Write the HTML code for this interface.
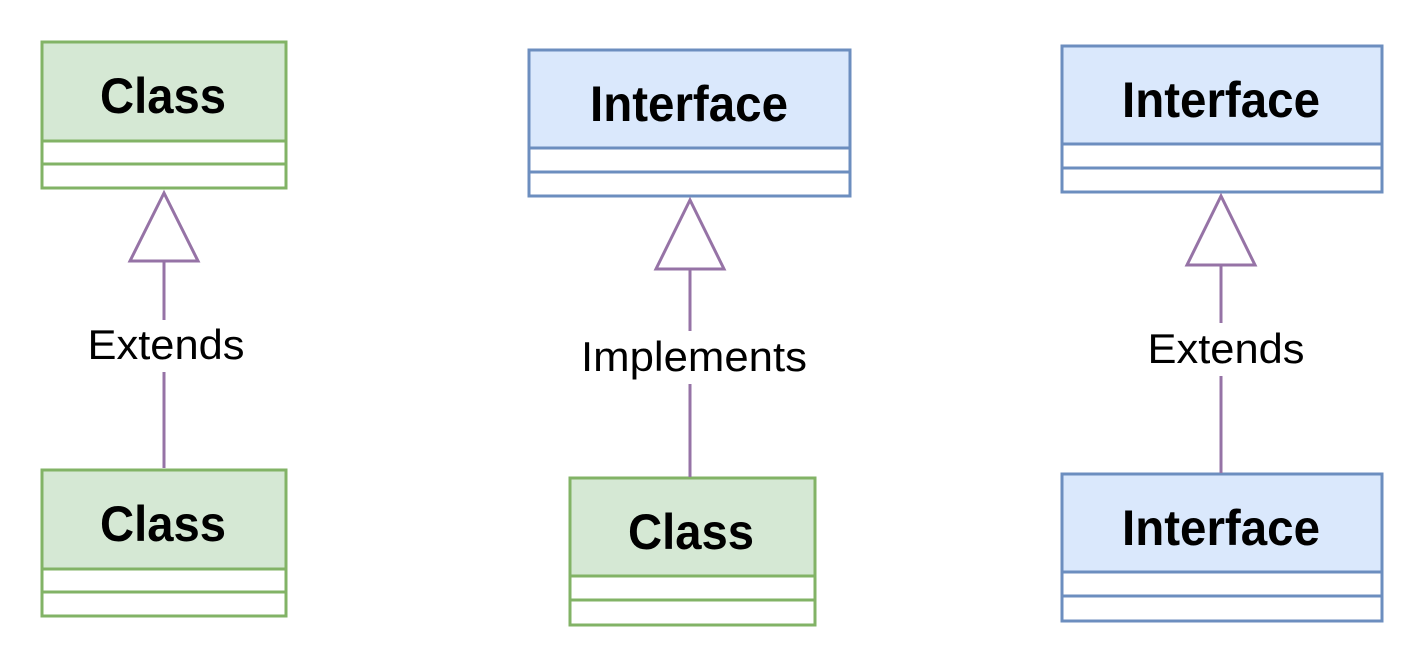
<!DOCTYPE html>
<html><head><meta charset="utf-8"><style>html,body{margin:0;padding:0;background:#fff}svg{display:block}</style></head>
<body>
<svg width="1424" height="668" viewBox="0 0 1424 668" xmlns="http://www.w3.org/2000/svg" font-family="Liberation Sans, Arial, sans-serif">
<g stroke-width="3">
<rect x="42" y="42" width="244" height="146" fill="#fff" stroke="#82b366"/>
<rect x="42" y="42" width="244" height="99" fill="#d5e8d4" stroke="#82b366"/>
<line x1="42" y1="164" x2="286" y2="164" stroke="#82b366"/>
<rect x="42" y="470" width="244" height="146" fill="#fff" stroke="#82b366"/>
<rect x="42" y="470" width="244" height="99" fill="#d5e8d4" stroke="#82b366"/>
<line x1="42" y1="592" x2="286" y2="592" stroke="#82b366"/>
<rect x="529" y="50" width="321" height="146" fill="#fff" stroke="#6c8ebf"/>
<rect x="529" y="50" width="321" height="98" fill="#dae8fc" stroke="#6c8ebf"/>
<line x1="529" y1="172" x2="850" y2="172" stroke="#6c8ebf"/>
<rect x="570" y="478" width="245" height="147" fill="#fff" stroke="#82b366"/>
<rect x="570" y="478" width="245" height="98" fill="#d5e8d4" stroke="#82b366"/>
<line x1="570" y1="600" x2="815" y2="600" stroke="#82b366"/>
<rect x="1062" y="46" width="320" height="146" fill="#fff" stroke="#6c8ebf"/>
<rect x="1062" y="46" width="320" height="98" fill="#dae8fc" stroke="#6c8ebf"/>
<line x1="1062" y1="168" x2="1382" y2="168" stroke="#6c8ebf"/>
<rect x="1062" y="474" width="320" height="147" fill="#fff" stroke="#6c8ebf"/>
<rect x="1062" y="474" width="320" height="98" fill="#dae8fc" stroke="#6c8ebf"/>
<line x1="1062" y1="596" x2="1382" y2="596" stroke="#6c8ebf"/>
<g stroke="#9673a6" fill="#fff">
<line x1="164" y1="261" x2="164" y2="320"/>
<line x1="164" y1="372" x2="164" y2="468"/>
<polygon points="164,193 130,261 198,261"/>
<line x1="690" y1="269" x2="690" y2="331"/>
<line x1="690" y1="384" x2="690" y2="477"/>
<polygon points="690,200 656,269 724,269"/>
<line x1="1221" y1="265" x2="1221" y2="323"/>
<line x1="1221" y1="376" x2="1221" y2="473"/>
<polygon points="1221,196 1187,265 1255,265"/>
</g>
</g>
<g font-weight="bold" font-size="50" text-anchor="middle" fill="#000">
<text x="163" y="113" textLength="126" lengthAdjust="spacingAndGlyphs">Class</text>
<text x="163" y="541" textLength="126" lengthAdjust="spacingAndGlyphs">Class</text>
<text x="689" y="121" textLength="198" lengthAdjust="spacingAndGlyphs">Interface</text>
<text x="691" y="549" textLength="126" lengthAdjust="spacingAndGlyphs">Class</text>
<text x="1221" y="117" textLength="198" lengthAdjust="spacingAndGlyphs">Interface</text>
<text x="1221" y="545" textLength="198" lengthAdjust="spacingAndGlyphs">Interface</text>
</g>
<g font-size="42" text-anchor="middle" fill="#000">
<text x="166" y="359" textLength="157" lengthAdjust="spacingAndGlyphs">Extends</text>
<text x="694" y="371" textLength="226" lengthAdjust="spacingAndGlyphs">Implements</text>
<text x="1226" y="363" textLength="157" lengthAdjust="spacingAndGlyphs">Extends</text>
</g>
</svg>
</body></html>
